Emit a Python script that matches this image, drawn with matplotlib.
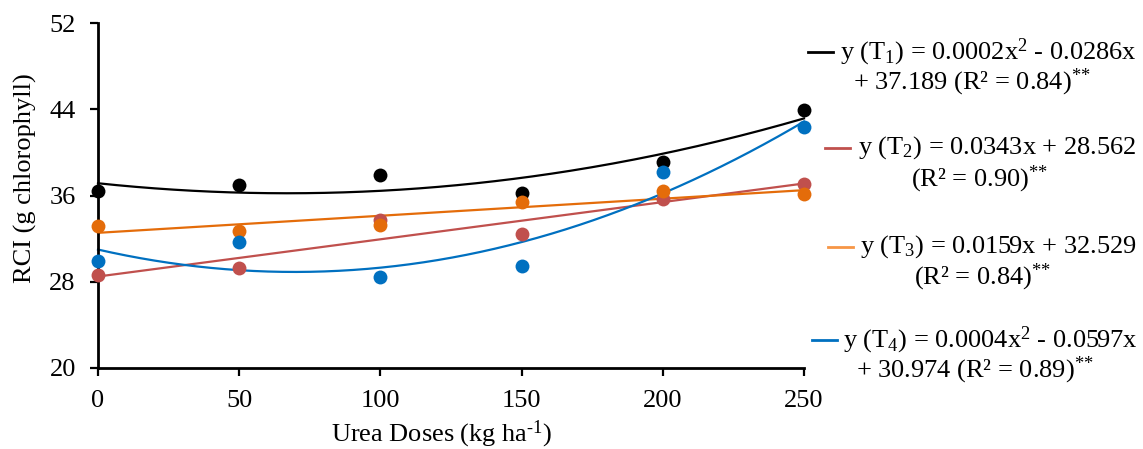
import numpy as np
import matplotlib
matplotlib.use("Agg")
import matplotlib.pyplot as plt
from matplotlib.lines import Line2D

plt.rcParams['font.family'] = ['Liberation Serif', 'DejaVu Serif']
plt.rcParams['mathtext.fontset'] = 'custom'
plt.rcParams['mathtext.rm'] = 'Liberation Serif'
plt.rcParams['mathtext.it'] = 'Liberation Serif:italic'

##############################################################################################

doses = [0, 50, 100, 150, 200, 250]
t1 = [36.4, 37.0, 37.9, 36.2, 39.1, 43.9]
t2 = [28.6, 29.3, 33.7, 32.4, 35.7, 37.1]
t3 = [33.2, 32.7, 33.3, 35.4, 36.4, 36.1]
t4 = [29.9, 31.7, 28.4, 29.5, 38.2, 42.4]

y_ticks = [20, 28, 36, 44, 52]
x_ticks = [0, 50, 100, 150, 200, 250]

labels = [
    ("y (T$_\\mathrm{1}$) = 0.0002x$^\\mathrm{2}$ - 0.0286x", "+ 37.189 (R² = 0.84)$^{\\text{**}}$"),
    ("y (T$_\\mathrm{2}$) = 0.0343x + 28.562", "(R² = 0.90)$^{\\text{**}}$"),
    ("y (T$_\\mathrm{3}$) = 0.0159x + 32.529", "(R² = 0.84)$^{\\text{**}}$"),
    ("y (T$_\\mathrm{4}$) = 0.0004x$^\\mathrm{2}$ - 0.0597x", "+ 30.974 (R² = 0.89)$^{\\text{**}}$"),
]

series = [t1, t2, t3, t4]
degrees = [2, 1, 1, 2]
point_colors = ["#000000", "#C0504D", "#E46C0A", "#0070C0"]
line_colors = ["#000000", "#C0504D", "#E46C0A", "#0070C0"]
legend_colors = ["#000000", "#C0504D", "#F79646", "#0070C0"]

##############################################################################################

W, H = 1143, 449
FS = 19
fig = plt.figure(figsize=(W / 100, H / 100), dpi=100)
ax = fig.add_axes([98 / W, 1 - 368 / H, (804 - 98) / W, (368 - 23) / H])

xs = np.linspace(0, 250, 300)
for vals, deg, pc, lc in zip(series, degrees, point_colors, line_colors):
    coef = np.polyfit(doses, vals, deg)
    ax.plot(xs, np.polyval(coef, xs), color=lc, lw=1.6, zorder=2, clip_on=False)
    ax.scatter(doses, vals, s=100, color=pc, zorder=3, clip_on=False, linewidths=0)

ax.set_xlim(0, 250)
ax.set_ylim(20, 52)
ax.set_xticks(x_ticks)
ax.set_yticks(y_ticks)
ax.spines[['top', 'right']].set_visible(False)
for s in ['left', 'bottom']:
    ax.spines[s].set_linewidth(2)
ax.tick_params(direction='out', length=6, width=1.6, labelsize=FS, pad=10)

fig.text(25 / W, 1 - 178 / H, "RCI (g chlorophyll)", rotation=90,
         ha='center', va='center', fontsize=FS)
fig.text(442 / W, 1 - 434 / H, "Urea Doses (kg ha$^{\\text{-}1}$)",
         ha='center', va='center', fontsize=FS)

# legend, drawn by hand so the handle sits next to the first text line
entries = [
    (808, 840, 52, 972, 82),
    (825, 858, 148, 980, 179),
    (828, 860, 247, 983, 277),
    (812, 843, 340, 975, 370),
]
for (hx, tx, y1, cx, y2), (l1, l2), col in zip(entries, labels, legend_colors):
    fig.add_artist(Line2D([hx / W, (hx + 25) / W], [1 - y1 / H, 1 - y1 / H],
                          color=col, lw=2, transform=fig.transFigure))
    fig.text(tx / W, 1 - y1 / H, l1, ha='left', va='center', fontsize=FS)
    fig.text(cx / W, 1 - y2 / H, l2, ha='center', va='center', fontsize=FS)

fig.savefig("out.png", dpi=100)
